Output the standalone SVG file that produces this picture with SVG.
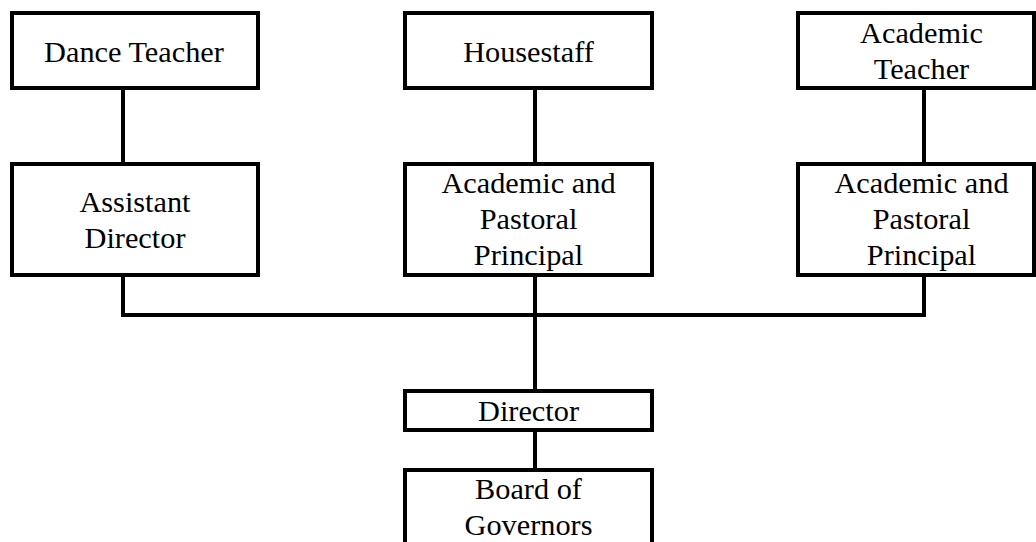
<svg xmlns="http://www.w3.org/2000/svg" width="1036" height="542" viewBox="0 0 1036 542">
<style>
.box{fill:#fff;stroke:#000;stroke-width:4}
.t{font-family:"Liberation Serif","Times New Roman",serif;font-size:30.3px;fill:#000;text-anchor:middle}
.c{stroke:#000;stroke-width:4;fill:none}
</style>
<rect width="1036" height="542" fill="#fff"/>
<g id="connectors">
<line class="c" x1="123" y1="88" x2="123" y2="164"/>
<line class="c" x1="535" y1="88" x2="535" y2="164"/>
<line class="c" x1="924" y1="88" x2="924" y2="164"/>
<polyline class="c" points="123,275 123,315 924,315 924,275"/>
<line class="c" x1="535" y1="275" x2="535" y2="391"/>
<line class="c" x1="535" y1="430" x2="535" y2="470"/>
</g>
<g id="dance-teacher"><rect class="box" x="12" y="13" width="246" height="75"/><text class="t" x="134" y="61.5">Dance Teacher</text></g>
<g id="housestaff"><rect class="box" x="405" y="13" width="247" height="75"/><text class="t" x="528.5" y="61.5">Housestaff</text></g>
<g id="academic-teacher"><rect class="box" x="798" y="13" width="236" height="75"/><text class="t" x="921.5" y="43">Academic</text><text class="t" x="921.5" y="79">Teacher</text></g>
<g id="assistant-director"><rect class="box" x="12" y="164" width="246" height="111"/><text class="t" x="135" y="212">Assistant</text><text class="t" x="135" y="248">Director</text></g>
<g id="principal-1"><rect class="box" x="405" y="164" width="247" height="111"/><text class="t" x="528.5" y="192.5">Academic and</text><text class="t" x="528.5" y="229">Pastoral</text><text class="t" x="528.5" y="265">Principal</text></g>
<g id="principal-2"><rect class="box" x="798" y="164" width="236" height="111"/><text class="t" x="921.5" y="192.5">Academic and</text><text class="t" x="921.5" y="229">Pastoral</text><text class="t" x="921.5" y="265">Principal</text></g>
<g id="director"><rect class="box" x="405" y="391" width="247" height="39"/><text class="t" x="528.5" y="421">Director</text></g>
<g id="board"><rect class="box" x="405" y="470" width="247" height="90"/><text class="t" x="528.5" y="499">Board of</text><text class="t" x="528.5" y="535">Governors</text></g>
</svg>
